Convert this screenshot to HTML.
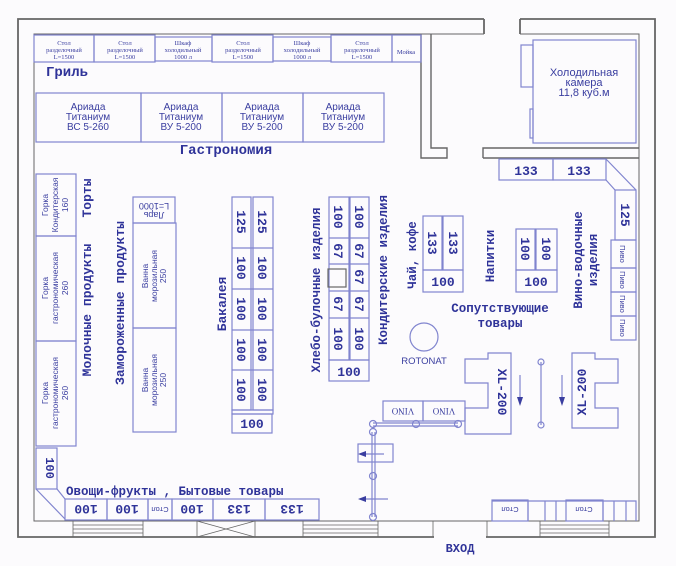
<!DOCTYPE html>
<html><head><meta charset="utf-8"><style>
html,body{margin:0;padding:0;background:#fcfbfd;}
svg{display:block;}
.l{fill:none;stroke:#8185cf;stroke-width:1.2}
.w{fill:none;stroke:#666;stroke-width:1.8}
.t{font-family:"Liberation Mono",monospace;font-weight:bold;fill:#2f3399}
.s{font-family:"Liberation Sans",sans-serif;fill:#3a3ea0}
.r{font-family:"Liberation Serif",serif;fill:#3a3ea0}
</style></head><body>
<svg width="676" height="566" viewBox="0 0 676 566" xmlns="http://www.w3.org/2000/svg">
<!-- outer walls -->
<path class="w" d="M484,19 H18 V537 H655 V19 H520"/>
<path class="w" d="M484,19 V34 M520,19 V34"/>
<path d="M484,34 H34 V521 H639 V34 H520" fill="none" stroke="#666" stroke-width="1"/>
<!-- cold room walls -->
<path class="w" d="M421,34 V158 H447 V148 H431 V34 M483,158 V148 H639 M483,158 H639" style="stroke-width:1.4"/>
<rect class="l" x="533" y="40" width="103" height="103"/>
<rect class="l" x="521" y="45" width="12" height="42"/>
<rect class="l" x="530" y="109" width="3" height="29"/>
<text class="s" font-size="11" text-anchor="middle"><tspan x="584" y="76">Холодильная</tspan><tspan x="584" y="86">камера</tspan><tspan x="584" y="96">11,8 куб.м</tspan></text>
<!-- top tables -->
<g class="l"><rect x="34" y="35" width="60" height="27"/><rect x="94" y="35" width="61" height="27"/><rect x="155" y="37" width="57" height="24"/><rect x="212" y="35" width="61" height="27"/><rect x="273" y="37" width="58" height="24"/><rect x="331" y="35" width="61" height="27"/><rect x="392" y="35" width="29" height="27"/></g>
<g class="r" font-size="6.5" text-anchor="middle">
<text x="64" y="45">Стол</text><text x="64" y="52">разделочный</text><text x="64" y="59">L=1500</text>
<text x="125" y="45">Стол</text><text x="125" y="52">разделочный</text><text x="125" y="59">L=1500</text>
<text x="183" y="45">Шкаф</text><text x="183" y="52">холодильный</text><text x="183" y="59">1000 л</text>
<text x="243" y="45">Стол</text><text x="243" y="52">разделочный</text><text x="243" y="59">L=1500</text>
<text x="302" y="45">Шкаф</text><text x="302" y="52">холодильный</text><text x="302" y="59">1000 л</text>
<text x="362" y="45">Стол</text><text x="362" y="52">разделочный</text><text x="362" y="59">L=1500</text>
<text x="406" y="54">Мойка</text></g>
<text class="t" x="46" y="76" font-size="14">Гриль</text>
<!-- Ariada -->
<g class="l"><rect x="36" y="93" width="105" height="49"/><rect x="141" y="93" width="81" height="49"/><rect x="222" y="93" width="81" height="49"/><rect x="303" y="93" width="81" height="49"/></g>
<g class="s" font-size="10" text-anchor="middle">
<text x="88" y="110">Ариада</text><text x="88" y="120">Титаниум</text><text x="88" y="130">ВС 5-260</text>
<text x="181" y="110">Ариада</text><text x="181" y="120">Титаниум</text><text x="181" y="130">ВУ 5-200</text>
<text x="262" y="110">Ариада</text><text x="262" y="120">Титаниум</text><text x="262" y="130">ВУ 5-200</text>
<text x="343" y="110">Ариада</text><text x="343" y="120">Титаниум</text><text x="343" y="130">ВУ 5-200</text></g>
<text class="t" x="226" y="154" font-size="14" text-anchor="middle">Гастрономия</text>
<!-- left column -->
<g class="l"><rect x="36" y="174" width="40" height="62"/><rect x="36" y="236" width="40" height="105"/><rect x="36" y="341" width="40" height="105"/><rect x="36" y="448" width="21" height="41"/>
<path d="M36,489 L65,519 M57,489 L65,499"/></g>
<g class="s" font-size="8.5" text-anchor="middle">
<text transform="translate(56,205) rotate(-90)"><tspan x="0" y="-8">Горка</tspan><tspan x="0" y="2">Кондитерская</tspan><tspan x="0" y="12">160</tspan></text>
<text transform="translate(56,288) rotate(-90)"><tspan x="0" y="-8">Горка</tspan><tspan x="0" y="2">гастрономическая</tspan><tspan x="0" y="12">260</tspan></text>
<text transform="translate(56,393) rotate(-90)"><tspan x="0" y="-8">Горка</tspan><tspan x="0" y="2">гастрономическая</tspan><tspan x="0" y="12">260</tspan></text></g>
<text class="t" font-size="13" text-anchor="middle" transform="translate(91,198) rotate(-90)">Торты</text>
<text class="t" font-size="13" text-anchor="middle" transform="translate(91,310) rotate(-90)">Молочные  продукты</text>
<text class="t" font-size="12" text-anchor="middle" transform="translate(46,468) rotate(90)">100</text>
<!-- frozen -->
<text class="t" font-size="13" text-anchor="middle" transform="translate(124,303) rotate(-90)">Замороженные  продукты</text>
<g class="l"><rect x="133" y="197" width="42" height="26"/><rect x="133" y="223" width="43" height="105"/><rect x="133" y="328" width="43" height="104"/></g>
<text class="s" font-size="9" text-anchor="middle" transform="translate(154,210) rotate(180)"><tspan x="0" y="-2">Ларь</tspan><tspan x="0" y="7">L=1000</tspan></text>
<text class="s" font-size="8.5" text-anchor="middle" transform="translate(154,276) rotate(-90)"><tspan x="0" y="-6">Ванна</tspan><tspan x="0" y="3">морозильная</tspan><tspan x="0" y="12">250</tspan></text>
<text class="s" font-size="8.5" text-anchor="middle" transform="translate(154,380) rotate(-90)"><tspan x="0" y="-6">Ванна</tspan><tspan x="0" y="3">морозильная</tspan><tspan x="0" y="12">250</tspan></text>
<!-- Bakaleya -->
<g class="l"><rect x="232" y="197" width="19" height="213"/><rect x="253" y="197" width="20" height="213"/><path d="M232,248H273M232,289H273M232,330H273M232,370H273"/><rect x="232" y="410" width="41" height="4"/><rect x="232" y="414" width="40" height="19"/></g>
<g class="t" font-size="13" text-anchor="middle">
<text transform="translate(237,222) rotate(90)">125</text><text transform="translate(258,222) rotate(90)">125</text>
<text transform="translate(237,268) rotate(90)">100</text><text transform="translate(258,268) rotate(90)">100</text>
<text transform="translate(237,309) rotate(90)">100</text><text transform="translate(258,309) rotate(90)">100</text>
<text transform="translate(237,350) rotate(90)">100</text><text transform="translate(258,350) rotate(90)">100</text>
<text transform="translate(237,390) rotate(90)">100</text><text transform="translate(258,390) rotate(90)">100</text>
<text x="252" y="428">100</text></g>
<text class="t" font-size="13" text-anchor="middle" transform="translate(226,304) rotate(-90)">Бакалея</text>
<!-- Hleb -->
<g class="l"><rect x="329" y="197" width="20" height="163"/><rect x="350" y="197" width="19" height="163"/><path d="M329,238H369M329,264H369M329,291H369M329,318H369"/><rect x="328" y="269" width="18" height="18" stroke="#666"/><rect x="329" y="360" width="40" height="21"/></g>
<g class="t" font-size="13" text-anchor="middle">
<text transform="translate(334,217) rotate(90)">100</text><text transform="translate(355,217) rotate(90)">100</text>
<text transform="translate(334,251) rotate(90)">67</text><text transform="translate(355,251) rotate(90)">67</text>
<text transform="translate(355,277) rotate(90)">67</text>
<text transform="translate(334,304) rotate(90)">67</text><text transform="translate(355,304) rotate(90)">67</text>
<text transform="translate(334,339) rotate(90)">100</text><text transform="translate(355,339) rotate(90)">100</text>
<text x="349" y="376">100</text></g>
<text class="t" font-size="12.5" text-anchor="middle" transform="translate(320,290) rotate(-90)">Хлебо-булочные  изделия</text>
<text class="t" font-size="12.5" text-anchor="middle" transform="translate(387,270) rotate(-90)">Кондитерские  изделия</text>
<!-- Chai -->
<g class="l"><rect x="423" y="216" width="19" height="54"/><rect x="443" y="216" width="20" height="54"/><rect x="423" y="270" width="40" height="22"/></g>
<g class="t" font-size="13" text-anchor="middle"><text transform="translate(428,243) rotate(90)">133</text><text transform="translate(449,243) rotate(90)">133</text><text x="443" y="286">100</text></g>
<text class="t" font-size="12.5" text-anchor="middle" transform="translate(416,255) rotate(-90)">Чай,  кофе</text>
<text class="t" font-size="12.5" text-anchor="middle" transform="translate(494,256) rotate(-90)">Напитки</text>
<g class="l"><rect x="516" y="229" width="19" height="41"/><rect x="536" y="229" width="21" height="41"/><rect x="516" y="270" width="41" height="22"/></g>
<g class="t" font-size="13" text-anchor="middle"><text transform="translate(521,249) rotate(90)">100</text><text transform="translate(542,249) rotate(90)">100</text><text x="536" y="286">100</text></g>
<text class="t" font-size="12.5" text-anchor="middle"><tspan x="500" y="312">Сопутствующие</tspan><tspan x="500" y="327">товары</tspan></text>
<text class="t" font-size="12.5" text-anchor="middle" transform="translate(586,260) rotate(-90)"><tspan x="0" y="-4">Вино-водочные</tspan><tspan x="0" y="11">изделия</tspan></text>
<!-- right -->
<g class="l"><rect x="499" y="159" width="54" height="21"/><rect x="553" y="159" width="53" height="21"/><path d="M606,159 L636,190 M606,180 L615,190"/><rect x="615" y="190" width="21" height="50"/>
<rect x="611" y="240" width="25" height="28"/><rect x="611" y="268" width="25" height="24"/><rect x="611" y="292" width="25" height="24"/><rect x="611" y="316" width="25" height="24"/></g>
<g class="t" font-size="13" text-anchor="middle"><text x="526" y="175">133</text><text x="579" y="175">133</text><text transform="translate(621,215) rotate(90)">125</text></g>
<g class="s" font-size="7.5" text-anchor="middle"><text transform="translate(620,254) rotate(90)">Пиво</text><text transform="translate(620,280) rotate(90)">Пиво</text><text transform="translate(620,304) rotate(90)">Пиво</text><text transform="translate(620,328) rotate(90)">Пиво</text></g>
<!-- rotonat -->
<circle class="l" cx="424" cy="337" r="14"/>
<text class="s" x="424" y="364" font-size="9.5" text-anchor="middle" fill="#6a6ec0">ROTONAT</text>
<!-- XL -->
<path class="l" d="M465,359H488V353H511V434H465V408H488V383H465Z"/>
<path class="l" d="M572,353H595V359H618V383H595V408H618V428H572Z"/>
<text class="t" font-size="13" text-anchor="middle" transform="translate(498,392) rotate(90)">XL-200</text>
<text class="t" font-size="13" text-anchor="middle" transform="translate(586,392) rotate(-90)">XL-200</text>
<path class="l" d="M520,375V400M562,375V400M541,362V425"/>
<path d="M517,397L520,406L523,397Z M559,397L562,406L565,397Z" fill="#3a3ea0"/>
<circle class="l" cx="541" cy="362" r="3" fill="#fcfbfd"/><circle class="l" cx="541" cy="425" r="3" fill="#fcfbfd"/>
<!-- vino & rail -->
<g class="l"><rect x="383" y="401" width="40" height="20"/><rect x="423" y="401" width="42" height="20"/>
<path d="M373,423H458M373,426H458M372,432V517M375,432V517"/>
<rect x="358" y="444" width="35" height="18"/><path d="M360,454H384M360,499H388"/></g>
<path d="M358,454L366,451V457Z M358,499L366,496V502Z" fill="#3a3ea0"/>
<g class="l" fill="#fcfbfd"><circle cx="373" cy="424" r="3.5"/><circle cx="416" cy="424" r="3.5"/><circle cx="458" cy="424" r="3.5"/><circle cx="373" cy="432" r="3.5"/><circle cx="373" cy="476" r="3.5"/><circle cx="373" cy="517" r="3.5"/></g>
<g class="r" font-size="9" text-anchor="middle"><text transform="translate(403,411) rotate(180)" dy="3">VINO</text><text transform="translate(444,411) rotate(180)" dy="3">VINO</text></g>
<!-- bottom row -->
<text class="t" x="66" y="495" font-size="12.5">Овощи-фрукты ,  Бытовые товары</text>
<g class="l"><rect x="65" y="499" width="42" height="21"/><rect x="107" y="499" width="41" height="21"/><rect x="148" y="499" width="24" height="21"/><rect x="172" y="499" width="41" height="21"/><rect x="213" y="499" width="52" height="21"/><rect x="265" y="499" width="54" height="21"/>
<rect x="492" y="500" width="36" height="21"/><rect x="566" y="500" width="37" height="21"/><path d="M528,500V521M545,501V521M556,501V521M603,501V521M614,501V521M626,501V521M492,501H636V521"/></g>
<g class="t" font-size="13" text-anchor="middle">
<text transform="translate(86,510) rotate(180)" dy="5">100</text><text transform="translate(127,510) rotate(180)" dy="5">100</text><text transform="translate(192,510) rotate(180)" dy="5">100</text><text transform="translate(239,510) rotate(180)" dy="5">133</text><text transform="translate(292,510) rotate(180)" dy="5">133</text></g>
<g class="s" font-size="7.5" text-anchor="middle"><text transform="translate(160,510) rotate(180)" dy="3">Стол</text><text transform="translate(510,510) rotate(180)" dy="3">Стол</text><text transform="translate(584,510) rotate(180)" dy="3">Стол</text></g>
<!-- windows -->
<g fill="none" stroke="#666" stroke-width="0.8">
<path d="M73,521V537M143,521V537M73,525H143M73,529H143M73,533H143"/>
<path d="M197,521V537M255,521V537M197,521L255,537M197,537L255,521"/>
<path d="M303,521V537M378,521V537M433,521V537M303,525H378M303,529H378M303,533H378"/>
<path d="M487,521V537M540,521V537M609,521V537M540,525H609M540,529H609M540,533H609"/>
</g>
<rect x="434" y="522" width="52" height="16" fill="#fcfbfd"/>
<text class="t" x="460" y="552" font-size="12" text-anchor="middle">ВХОД</text>
</svg>
</body></html>
